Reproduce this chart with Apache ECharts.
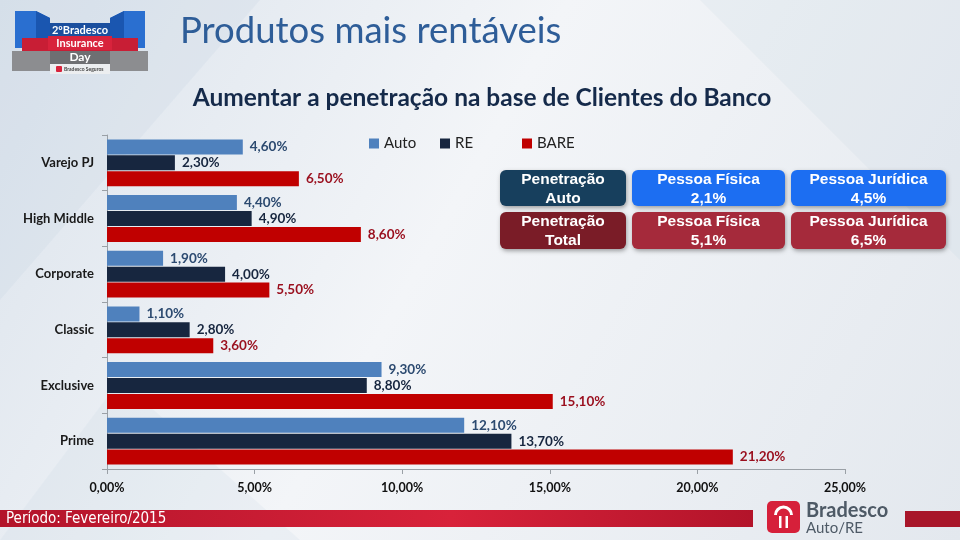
<!DOCTYPE html>
<html><head><meta charset="utf-8">
<script src="https://cdn.jsdelivr.net/npm/echarts@6/dist/echarts.min.js"></script>
<style>html,body{margin:0;padding:0;}#c{width:960px;height:540px;}</style>
</head><body><div id="c"></div>
<script>
const categories = ['Varejo PJ','High Middle','Corporate','Classic','Exclusive','Prime'];
const autoValues = [4.60, 4.40, 1.90, 1.10, 9.30, 12.10];
const reValues   = [2.30, 4.90, 4.00, 2.80, 8.80, 13.70];
const bareValues = [6.50, 8.60, 5.50, 3.60, 15.10, 21.20];
const seriesNames = ['Auto','RE','BARE'];
const xTicks = [0, 5, 10, 15, 20, 25];
const boxTexts = [
  ['Penetração\nAuto','Pessoa Física\n2,1%','Pessoa Jurídica\n4,5%'],
  ['Penetração\nTotal','Pessoa Física\n5,1%','Pessoa Jurídica\n6,5%']
];

const fmt = v => v.toFixed(2).replace('.', ',') + '%';
const FONT = 'Lato, "Open Sans", sans-serif';

const colX = [[500,126],[632,153],[791,155]];
const rowY = [[170,36],[212,37]];
const boxColors = [['#173f5d','#1c6ef2','#1c6ef2'],['#7a1c27','#a52a3b','#a52a3b']];
const boxes = [];
rowY.forEach((r, ri) => colX.forEach((c, ci) => {
  boxes.push({type:'rect', shape:{x:c[0], y:r[0], width:c[1], height:r[1], r:6},
    style:{fill:boxColors[ri][ci], shadowBlur:4, shadowColor:'rgba(0,0,0,0.35)', shadowOffsetX:1, shadowOffsetY:2}, z:10});
  boxes.push({type:'text', x:c[0]+c[1]/2, y:r[0]+r[1]/2+1, z:11,
    style:{text:boxTexts[ri][ci], fill:'#fff', align:'center', verticalAlign:'middle',
      font:'bold 15.5px "Liberation Sans", Arial, sans-serif', lineHeight:19}});
}));

const chart = echarts.init(document.getElementById('c'));
const mkSeries = (name, data, color, labelColor) => ({
  name, type:'bar', data, barWidth:15, barGap:'6%', barCategoryGap:'18%',
  itemStyle:{color},
  label:{show:true, position:'right', distance:7, color:labelColor,
    fontFamily:FONT, fontSize:13.5, fontWeight:'bold', formatter:p => fmt(p.value)}
});

chart.setOption({
  animation:false,
  backgroundColor:{type:'linear', x:0, y:0, x2:1, y2:1, colorStops:[
    {offset:0, color:'#dbe3ec'},{offset:0.45, color:'#f3f5f8'},{offset:1, color:'#e3e8ee'}]},
  graphic:[
    {type:'polygon', shape:{points:[[0,0],[260,0],[0,300]]}, style:{fill:'rgba(190,205,220,0.18)'}, z:-1},
    {type:'polygon', shape:{points:[[700,0],[960,0],[960,260]]}, style:{fill:'rgba(190,205,220,0.15)'}, z:-1},
    {type:'polygon', shape:{points:[[0,540],[300,540],[120,380]]}, style:{fill:'rgba(190,205,220,0.15)'}, z:-1},
    // header logo
    {type:'polygon', shape:{points:[[15,11],[36,11],[50,18],[50,48],[15,48]]}, style:{fill:'#2a6fd0'}},
    {type:'polygon', shape:{points:[[145,11],[124,11],[110,18],[110,48],[145,48]]}, style:{fill:'#2a6fd0'}},
    {type:'polygon', shape:{points:[[36,11],[50,18],[50,48],[36,40]]}, style:{fill:'#1a56b0'}},
    {type:'polygon', shape:{points:[[124,11],[110,18],[110,48],[124,40]]}, style:{fill:'#1a56b0'}},
    {type:'rect', shape:{x:22, y:38, width:116, height:13}, style:{fill:'#c81e35'}},
    {type:'rect', shape:{x:12, y:51, width:136, height:20}, style:{fill:'#8c8d90'}},
    {type:'rect', shape:{x:50, y:23, width:60, height:13}, style:{fill:'#1b4f9e'}},
    {type:'rect', shape:{x:48, y:36, width:64, height:14}, style:{fill:'#d8233c'}},
    {type:'rect', shape:{x:50, y:51, width:60, height:13}, style:{fill:'#6e6f72'}},
    {type:'rect', shape:{x:50, y:64, width:60, height:10}, style:{fill:'#eceef0'}},
    {type:'text', x:80, y:30, style:{text:'2ºBradesco', fill:'#fff', align:'center', verticalAlign:'middle', font:'bold 11px '+FONT}},
    {type:'text', x:80, y:43.5, style:{text:'Insurance', fill:'#fff', align:'center', verticalAlign:'middle', font:'bold 11px '+FONT}},
    {type:'text', x:80, y:57.5, style:{text:'Day', fill:'#fff', align:'center', verticalAlign:'middle', font:'bold 12px '+FONT}},
    {type:'rect', shape:{x:56, y:66, width:6, height:6, r:1}, style:{fill:'#d8233c'}},
    {type:'text', x:64, y:69, style:{text:'Bradesco Seguros', fill:'#444', align:'left', verticalAlign:'middle', font:'bold 5px '+FONT}},
    // titles
    {type:'text', x:180, y:31, style:{text:'Produtos mais rentáveis', fill:'#2e5d98', align:'left', verticalAlign:'middle', font:'36.5px '+FONT}},
    {type:'text', x:482, y:98, style:{text:'Aumentar a penetração na base de Clientes do Banco', fill:'#152a4a', align:'center', verticalAlign:'middle', font:'bold 24.5px '+FONT}},
    ...boxes,
    // footer
    {type:'rect', shape:{x:0, y:510, width:753, height:17}, style:{fill:{type:'linear', x:0, y:0, x2:1, y2:0, colorStops:[{offset:0,color:'#b3142a'},{offset:0.6,color:'#d8223a'},{offset:1,color:'#b3142a'}]}}},
    {type:'rect', shape:{x:905, y:511, width:55, height:16}, style:{fill:'#a8162a'}},
    {type:'text', x:6, y:519, style:{text:'Período: Fevereiro/2015', fill:'#fff', align:'left', verticalAlign:'middle', font:'15px "Liberation Sans Narrow", "DejaVu Sans Condensed", sans-serif'}},
    {type:'rect', shape:{x:767, y:501, width:33, height:32, r:5}, style:{fill:'#d6203a'}},
    {type:'arc', shape:{cx:783.5, cy:515, r:8, startAngle:Math.PI, endAngle:2*Math.PI}, style:{stroke:'#fff', lineWidth:3, fill:null}},
    {type:'rect', shape:{x:779, y:516, width:2.5, height:12}, style:{fill:'#fff'}},
    {type:'rect', shape:{x:785.5, y:516, width:2.5, height:12}, style:{fill:'#fff'}},
    {type:'text', x:806, y:511, style:{text:'Bradesco', fill:'#4e5a66', align:'left', verticalAlign:'middle', font:'bold 20px '+FONT}},
    {type:'text', x:806, y:528, style:{text:'Auto/RE', fill:'#4e5a66', align:'left', verticalAlign:'middle', font:'15px '+FONT}}
  ],
  legend:[
    {data:[seriesNames[0]], left:364, top:131},
    {data:[seriesNames[1]], left:435, top:131},
    {data:[seriesNames[2]], left:517, top:131}
  ].map(l => Object.assign(l, {icon:'rect', itemWidth:10, itemHeight:10, itemGap:6,
    textStyle:{fontFamily:FONT, fontSize:15, color:'#222'}})),
  grid:{left:107, right:115, top:135, bottom:71, containLabel:false},
  xAxis:{type:'value', min:xTicks[0], max:xTicks[xTicks.length-1], interval:xTicks[1]-xTicks[0],
    axisLine:{show:true, lineStyle:{color:'#9aa0a6'}},
    axisTick:{show:true, length:5, lineStyle:{color:'#9aa0a6'}},
    splitLine:{show:false},
    axisLabel:{formatter:v => fmt(v), margin:12, color:'#111', fontFamily:FONT, fontSize:12.5, fontWeight:'bold'}},
  yAxis:{type:'category', data:categories, inverse:true,
    axisLine:{show:true, lineStyle:{color:'#9aa0a6'}},
    axisTick:{show:true, length:5, lineStyle:{color:'#9aa0a6'}},
    axisLabel:{margin:13, color:'#1a1a1a', fontFamily:FONT, fontSize:13, fontWeight:'bold'}},
  series:[
    mkSeries(seriesNames[0], autoValues, '#4f81bd', '#2c4a70'),
    mkSeries(seriesNames[1], reValues, '#17263f', '#17263f'),
    mkSeries(seriesNames[2], bareValues, '#c00000', '#9a0f1e')
  ]
});
</script></body></html>
